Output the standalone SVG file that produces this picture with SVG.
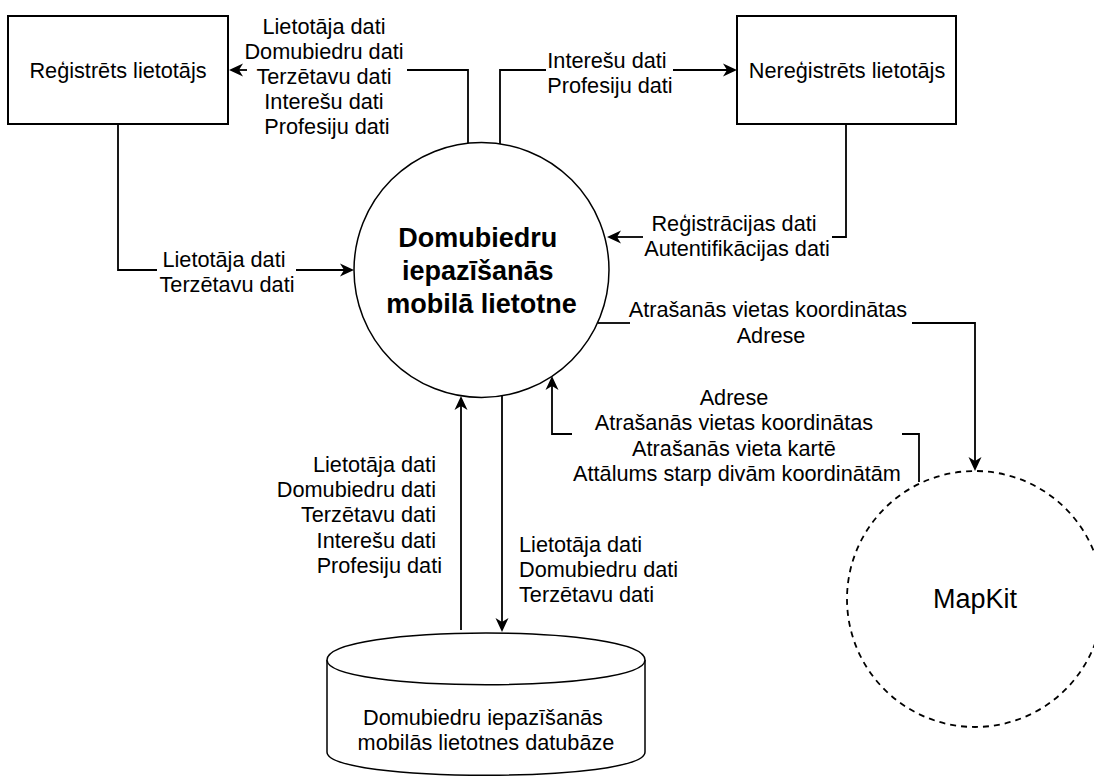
<svg xmlns="http://www.w3.org/2000/svg" width="1094" height="776" viewBox="0 0 1094 776">
  <style>
    .lbl { font-family: "Liberation Sans", Arial, Helvetica, sans-serif; font-size: 21.7px; fill: #000; }
    .mid { text-anchor: middle; }
    .end { text-anchor: end; }
    .title { font-family: "Liberation Sans", Arial, Helvetica, sans-serif; font-size: 27px; font-weight: bold; text-anchor: middle; fill: #000; }
    .big { font-family: "Liberation Sans", Arial, Helvetica, sans-serif; font-size: 27px; text-anchor: middle; fill: #000; }
    .box { fill: #fff; stroke: #000; stroke-width: 2; }
    .proc { fill: #fff; stroke: #000; stroke-width: 1.5; }
    .ext { fill: #fff; stroke: #000; stroke-width: 1.8; stroke-dasharray: 6 5; }
    .flow { fill: none; stroke: #000; stroke-width: 1.8; }
    .arr { marker-end: url(#head); }
  </style>
  <defs>
    <marker id="head" markerUnits="userSpaceOnUse" viewBox="0 0 14 14" markerWidth="14" markerHeight="14" refX="10" refY="7" orient="auto">
      <path d="M0,0.5 L14,7 L0,13.5 L4,7 Z" fill="#000"/>
    </marker>
  </defs>

  <!-- data flows -->
  <g id="connectors">
    <!-- app -> registered user -->
    <path class="flow" d="M468,143 V70 H407"/>
    <path class="flow arr" d="M247,70 H233"/>
    <!-- app -> unregistered user -->
    <path class="flow" d="M500,144 V70 H546"/>
    <path class="flow arr" d="M673,70 H733"/>
    <!-- unregistered user -> app -->
    <path class="flow" d="M846,124 V237 H832"/>
    <path class="flow arr" d="M643,237 H611"/>
    <!-- registered user -> app -->
    <path class="flow" d="M118,124 V270 H157"/>
    <path class="flow arr" d="M296,270 H350"/>
    <!-- app -> MapKit -->
    <path class="flow" d="M598,323 H630"/>
    <path class="flow arr" d="M912,323 H975 V467"/>
    <!-- MapKit -> app -->
    <path class="flow" d="M919,482 V434 H902"/>
    <path class="flow arr" d="M572,434 H552 V380"/>
    <!-- database -> app -->
    <path class="flow arr" d="M461,630 V400"/>
    <!-- app -> database -->
    <path class="flow arr" d="M502,396 V628"/>

    <!-- flow labels -->
    <text class="lbl mid">
      <tspan x="327" y="33.5">Lietotāja dati</tspan>
      <tspan x="327" y="58.7">Domubiedru dati</tspan>
      <tspan x="327" y="84">Terzētavu dati</tspan>
      <tspan x="327" y="109.2">Interešu dati</tspan>
      <tspan x="327" y="134.4">Profesiju dati</tspan>
    </text>
    <text class="lbl mid">
      <tspan x="610" y="68">Interešu dati</tspan>
      <tspan x="610" y="93">Profesiju dati</tspan>
    </text>
    <text class="lbl mid">
      <tspan x="227" y="266.7">Lietotāja dati</tspan>
      <tspan x="227" y="292">Terzētavu dati</tspan>
    </text>
    <text class="lbl mid">
      <tspan x="737" y="230.5">Reģistrācijas dati</tspan>
      <tspan x="737" y="256">Autentifikācijas dati</tspan>
    </text>
    <text class="lbl mid">
      <tspan x="771" y="317">Atrašanās vietas koordinātas</tspan>
      <tspan x="771" y="342.5">Adrese</tspan>
    </text>
    <text class="lbl mid">
      <tspan x="737" y="405">Adrese</tspan>
      <tspan x="737" y="430.3">Atrašanās vietas koordinātas</tspan>
      <tspan x="737" y="455.6">Atrašanās vieta kartē</tspan>
      <tspan x="737" y="481">Attālums starp divām koordinātām</tspan>
    </text>
    <text class="lbl end">
      <tspan x="442" y="471.7">Lietotāja dati</tspan>
      <tspan x="442" y="497">Domubiedru dati</tspan>
      <tspan x="442" y="522.3">Terzētavu dati</tspan>
      <tspan x="442" y="547.6">Interešu dati</tspan>
      <tspan x="442" y="573">Profesiju dati</tspan>
    </text>
    <text class="lbl">
      <tspan x="519" y="551.7">Lietotāja dati</tspan>
      <tspan x="519" y="577">Domubiedru dati</tspan>
      <tspan x="519" y="602.3">Terzētavu dati</tspan>
    </text>
  </g>

  <!-- external entity: registered user -->
  <g id="registered-user">
    <rect class="box" x="8" y="16" width="220" height="108"/>
    <text class="lbl mid" x="118" y="78.3">Reģistrēts lietotājs</text>
  </g>

  <!-- external entity: unregistered user -->
  <g id="unregistered-user">
    <rect class="box" x="737" y="16" width="219" height="108"/>
    <text class="lbl mid" x="847" y="78.3">Nereģistrēts lietotājs</text>
  </g>

  <!-- main process -->
  <g id="app">
    <circle class="proc" cx="481.5" cy="270" r="127.5"/>
    <text class="title">
      <tspan x="481.5" y="247">Domubiedru</tspan>
      <tspan x="481.5" y="280">iepazīšanās</tspan>
      <tspan x="481.5" y="313">mobilā lietotne</tspan>
    </text>
  </g>

  <!-- external service -->
  <g id="mapkit">
    <circle class="ext" cx="975" cy="599" r="128"/>
    <text class="big" x="975" y="608">MapKit</text>
  </g>

  <!-- data store -->
  <g id="database">
    <path class="proc" d="M327,660 C327,624 645,624 645,660 V752 C645,783 327,783 327,752 Z"/>
    <path class="proc" fill="none" d="M327,660 C327,693 645,693 645,660"/>
    <text class="lbl mid">
      <tspan x="486" y="725">Domubiedru iepazīšanās</tspan>
      <tspan x="486" y="750">mobilās lietotnes datubāze</tspan>
    </text>
  </g>
</svg>
